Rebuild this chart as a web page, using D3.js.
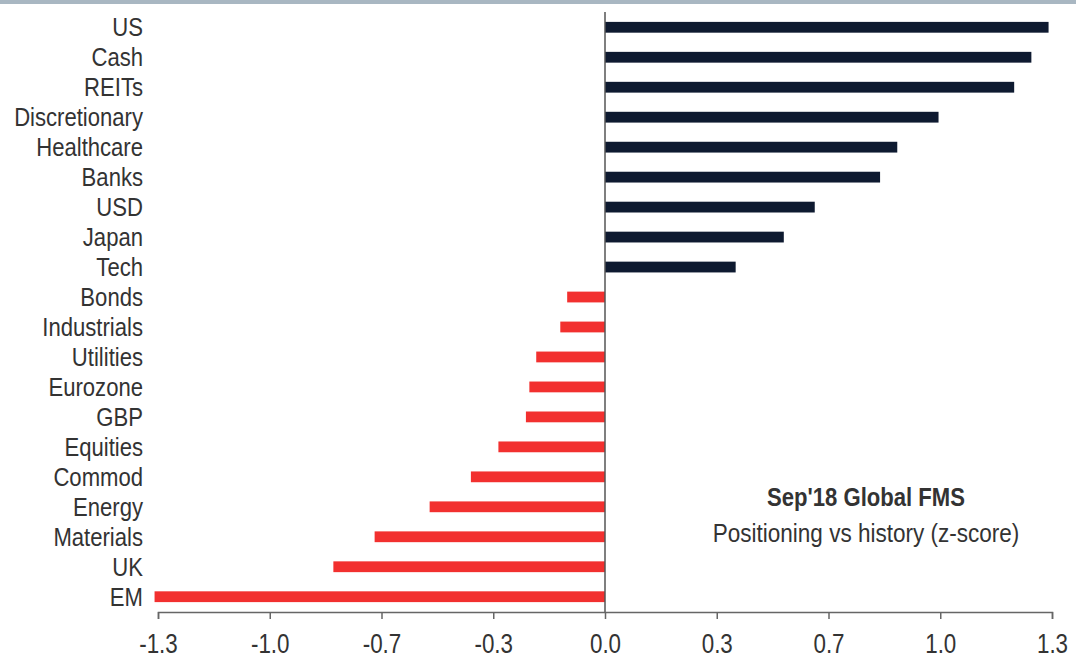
<!DOCTYPE html>
<html>
<head>
<meta charset="utf-8">
<script src="https://cdn.jsdelivr.net/npm/d3@7"></script>
<style>
  html, body { margin: 0; padding: 0; background: #fff; }
  svg { display: block; }
  text { font-family: "Liberation Sans", Arial, sans-serif; }
</style>
</head>
<body>
<svg id="chart" width="1076" height="659"></svg>
<script>
// Positioning vs history (z-score), Sep'18 Global FMS
const categories = ["US", "Cash", "REITs", "Discretionary", "Healthcare", "Banks", "USD", "Japan", "Tech",
  "Bonds", "Industrials", "Utilities", "Eurozone", "GBP", "Equities", "Commod", "Energy", "Materials", "UK", "EM"];
const zscores = [1.29, 1.24, 1.19, 0.97, 0.85, 0.80, 0.61, 0.52, 0.38,
  -0.11, -0.13, -0.20, -0.22, -0.23, -0.31, -0.39, -0.51, -0.67, -0.79, -1.31];
const tickValues = [-1.3, -0.975, -0.65, -0.325, 0, 0.325, 0.65, 0.975, 1.3];
const tickLabels = ["-1.3", "-1.0", "-0.7", "-0.3", "0.0", "0.3", "0.7", "1.0", "1.3"];

const W = 1076, H = 659;
const margin = { top: 12, right: 24, bottom: 47, left: 158 };
const condense = 0.85; // horizontal squeeze applied to all text
const svg = d3.select("#chart");

// thin header band at the top edge
svg.append("rect").attr("x", 0).attr("y", 0).attr("width", W).attr("height", 4).attr("fill", "#a9b7c2");

const x = d3.scaleLinear().domain([-1.3, 1.3]).range([margin.left, W - margin.right]);
const y = d3.scaleBand().domain(categories).range([margin.top, H - margin.bottom]).paddingInner(0.64).paddingOuter(0.33);

const data = categories.map((c, i) => ({ c, v: zscores[i] }));

svg.append("g").selectAll("rect").data(data).join("rect")
  .attr("x", d => x(Math.min(0, d.v)))
  .attr("y", d => y(d.c))
  .attr("width", d => Math.abs(x(d.v) - x(0)))
  .attr("height", y.bandwidth())
  .attr("fill", d => d.v >= 0 ? "#0e1a30" : "#f2302f");

// category labels
svg.append("g").selectAll("text").data(categories).join("text")
  .attr("transform", d => `translate(143,${y(d) + y.bandwidth() / 2 + 9}) scale(${condense},1)`)
  .attr("text-anchor", "end")
  .attr("font-size", 26)
  .attr("fill", "#333")
  .text(d => d);

// zero line
svg.append("line")
  .attr("x1", x(0)).attr("x2", x(0))
  .attr("y1", margin.top).attr("y2", 612)
  .attr("stroke", "#555").attr("stroke-width", 1.5);

// x axis with condensed tick labels
const axis = d3.axisBottom(x).tickValues(tickValues).tickSize(7).tickFormat((d, i) => tickLabels[i]);
const gx = svg.append("g").attr("transform", "translate(0,612)").call(axis);
gx.select(".domain").attr("stroke", "#666").attr("stroke-width", 1.5);
gx.selectAll(".tick line").attr("stroke", "#666").attr("stroke-width", 1.5);
gx.selectAll(".tick text")
  .attr("font-size", 28).attr("fill", "#333")
  .attr("y", 41).attr("dy", null)
  .attr("transform", "scale(0.8,1)")
  .style("font-family", "'Liberation Sans', Arial, sans-serif");

// annotation
svg.append("text").attr("transform", `translate(866,506) scale(${condense},1)`).attr("text-anchor", "middle")
  .attr("font-size", 26).attr("font-weight", "bold").attr("fill", "#333").text("Sep'18 Global FMS");
svg.append("text").attr("transform", `translate(866,542) scale(${condense},1)`).attr("text-anchor", "middle")
  .attr("font-size", 26.5).attr("fill", "#333").text("Positioning vs history (z-score)");
</script>
</body>
</html>
